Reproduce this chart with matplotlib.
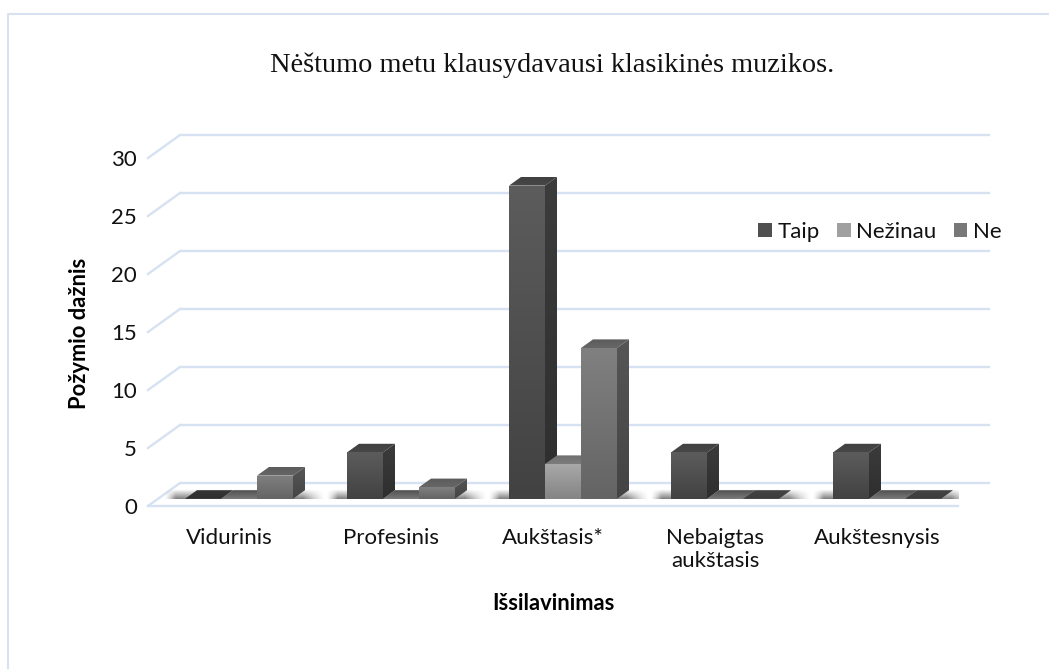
# -*- coding: utf-8 -*-
import numpy as np
import matplotlib
matplotlib.use('Agg')
import matplotlib.pyplot as plt
from matplotlib.lines import Line2D
from matplotlib.patches import Patch, Polygon

categories = ['Vidurinis', 'Profesinis', 'Aukštasis*', 'Nebaigtas\naukštasis', 'Aukštesnysis']
taip = [0, 4, 27, 4, 4]
nezinau = [0, 0, 3, 0, 0]
ne = [2, 1, 13, 0, 0]
series_names = ['Taip', 'Nežinau', 'Ne']
y_ticks = [0, 5, 10, 15, 20, 25, 30]

W, H = 1049, 669
GRID = '#d6e2f2'

# front wall of the chart box in pixels
left, right, bottom, top = 148, 958, 506, 158

plt.rcParams['font.family'] = ['Lato', 'DejaVu Sans']

fig = plt.figure(figsize=(W / 100, H / 100), dpi=100)
ax = fig.add_axes([left / W, 1 - bottom / H, (right - left) / W, (bottom - top) / H])
ax.set_xlim(-0.5, 4.5)
ax.set_ylim(0, 30)
ax.patch.set_alpha(0)

# one unit of depth in data units: 32 px right, 23 px up
dx = 32 / ((right - left) / 5)
dy = 23 / ((bottom - top) / 30)
bar_w = 36 / ((right - left) / 5)


def proj(x, y, d):
    return x + d * dx, y + d * dy


def face(xs, ys, top_col, bot_col, z):
    # vertical gradient painted on a polygon
    lo, hi = min(ys), max(ys)
    if hi - lo < 1e-6:
        hi = lo + 1e-3
    c0 = np.array(matplotlib.colors.to_rgb(top_col))
    c1 = np.array(matplotlib.colors.to_rgb(bot_col))
    t = np.linspace(0, 1, 64)[:, None, None]
    img = c0[None, None, :] * (1 - t) + c1[None, None, :] * t
    im = ax.imshow(img, extent=(min(xs), max(xs), lo, hi), aspect='auto',
                   zorder=z, interpolation='bilinear')
    poly = Polygon(list(zip(xs, ys)), closed=True, transform=ax.transData)
    im.set_clip_path(poly)


def shadow(x0, x1, z=2):
    # soft floor shadow under a group of bars
    pad_l, pad_r = 0.07, 0.14
    xs = np.linspace(x0 - pad_l, x1 + pad_r, 200)
    edge = np.clip(np.minimum((xs - (x0 - pad_l)) / pad_l, ((x1 + pad_r) - xs) / pad_r), 0, 1)
    rows = np.linspace(0, 1, 16)
    a = np.outer(rows, edge ** 1.4) * 0.5
    rgba = np.zeros(a.shape + (4,))
    rgba[..., 3] = a
    _, y0 = proj(0, 0, 0.3125)
    ax.imshow(rgba, extent=(x0 - pad_l, x1 + pad_r, y0, y0 + 0.8), aspect='auto',
              zorder=z, interpolation='bilinear')


def bar3d(x0, val, cols, z):
    x1 = x0 + bar_w
    d0, d1 = 0.3125, 0.6875
    fx0, fy0 = proj(x0, 0, d0)
    fx1, fy1 = proj(x1, val, d0)
    bx0, by1 = proj(x0, val, d1)
    bx1, by0 = proj(x1, 0, d1)
    if val == 0:
        face([fx0, fx1, bx1, bx0], [fy1, fy1, by1, by1], cols['zero2'], cols['zero'], z)
        return
    face([fx0, fx1, bx1, bx0], [fy1, fy1, by1, by1], cols['top'], cols['top2'], z)
    face([fx1, bx1, bx1, fx1], [fy0, by0, by1, fy1], cols['side'], cols['side2'], z)
    face([fx0, fx1, fx1, fx0], [fy0, fy0, fy1, fy1], cols['front'], cols['front2'], z + 0.1)


taip_cols = dict(front='#5c5c5c', front2='#424242', side='#3c3c3c', side2='#2e2e2e',
                 top='#404040', top2='#474747', zero='#2e2e2e', zero2='#363636')
nez_cols = dict(front='#a8a8a8', front2='#848484', side='#6a6a6a', side2='#5a5a5a',
                top='#707070', top2='#7c7c7c', zero='#7a7a7a', zero2='#505050')
ne_cols = dict(front='#808080', front2='#646464', side='#565656', side2='#444444',
               top='#5c5c5c', top2='#666666', zero='#3c3c3c', zero2='#444444')

# grid on floor/back wall
for v in y_ticks:
    bx0, by = proj(-0.5, v, 1)
    bx1, _ = proj(4.5, v, 1)
    ax.plot([-0.5, bx0], [v, by], color=GRID, lw=1.7, clip_on=False, zorder=1)
    ax.plot([bx0, bx1], [by, by], color=GRID, lw=1.7, clip_on=False, zorder=1,
            solid_capstyle='butt')
ax.plot([-0.5, 4.5], [0, 0], color=GRID, lw=1.7, clip_on=False, zorder=1)

for i in range(len(categories)):
    start = i - 1.5 * bar_w
    shadow(start, start + 3 * bar_w + 0.12)
    bar3d(start, taip[i], taip_cols, 3)
    bar3d(start + bar_w, nezinau[i], nez_cols, 4)
    bar3d(start + 2 * bar_w, ne[i], ne_cols, 5)

ax.set_xlim(-0.5, 4.5)
ax.set_ylim(0, 30)

for s in ax.spines.values():
    s.set_visible(False)
ax.set_yticks(y_ticks)
ax.set_xticks(range(len(categories)))
ax.set_xticklabels(categories, fontsize=16, linespacing=1.2, color='#111111')
ax.tick_params(axis='y', length=0, pad=8, labelsize=16, labelcolor='#111111')
ax.tick_params(axis='x', length=0, pad=16)

fig.text(552 / W, 1 - 65 / H, 'Nėštumo metu klausydavausi klasikinės muzikos.',
         family='Liberation Serif', fontsize=20.4, ha='center', va='center', color='#111111')
fig.text(80 / W, 1 - 333 / H, 'Požymio dažnis', rotation=90, fontsize=15.8, weight='bold',
         ha='center', va='center', color='black')
fig.text(553 / W, 1 - 604 / H, 'Išsilavinimas', fontsize=15.8, weight='bold',
         ha='center', va='center', color='black')

handles = [Patch(facecolor='#505050'), Patch(facecolor='#a0a0a0'), Patch(facecolor='#787878')]
fig.legend(handles, series_names, ncol=3, frameon=False, fontsize=16,
           loc='center', bbox_to_anchor=(880 / W, 1 - 232 / H), handlelength=0.6,
           handleheight=0.6, handletextpad=0.25, columnspacing=0.8, labelcolor='#111111')

# chart frame, only the top and left edges are in the picture
fig.add_artist(Line2D([8 / W, 8 / W, 1], [0, 1 - 14 / H, 1 - 14 / H], transform=fig.transFigure,
                      color=GRID, lw=1.5))

fig.savefig('out.png', dpi=100)
